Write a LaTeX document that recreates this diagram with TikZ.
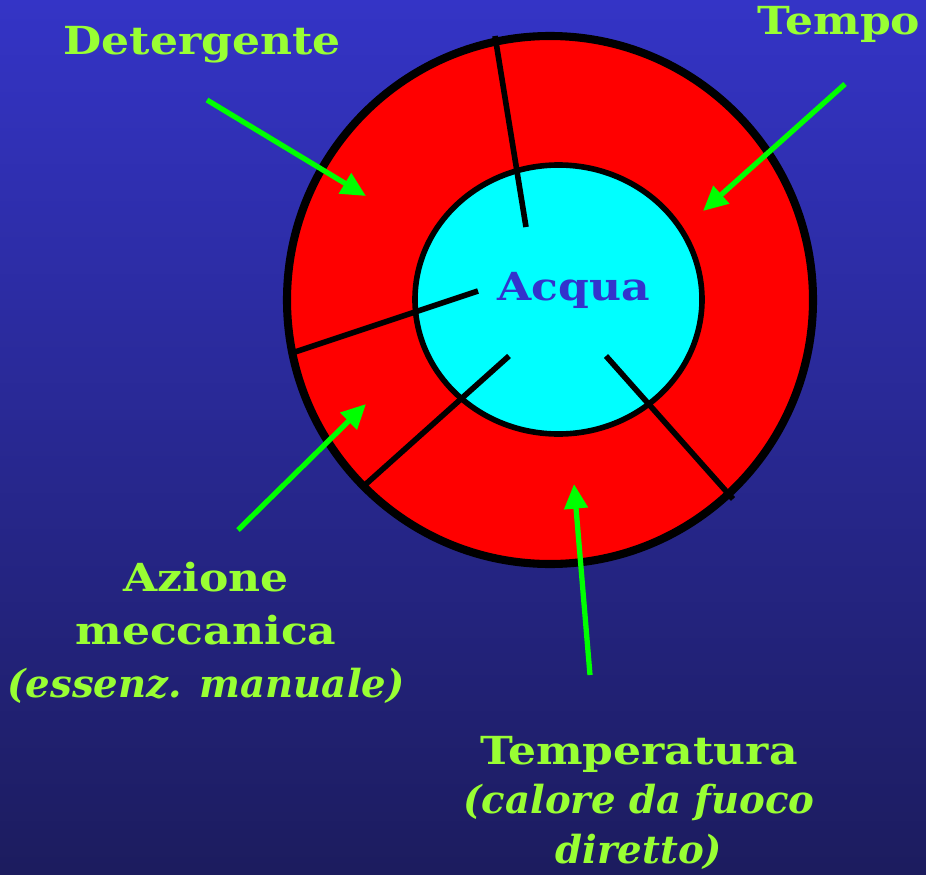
\documentclass[tikz,border=0pt]{standalone}
\usepackage{fontspec}
\setmainfont{DejaVu Serif}[BoldFeatures={FakeStretch=1.14}]
\definecolor{BGTOP}{HTML}{3434C6}
\definecolor{BGBOT}{HTML}{1C1C5E}
\definecolor{RING}{HTML}{FF0000}
\definecolor{WATER}{HTML}{00FFFF}
\definecolor{LABEL}{HTML}{99FF33}
\definecolor{GARROW}{HTML}{00FF00}
\definecolor{ACQUA}{HTML}{3333CC}
\usetikzlibrary{arrows.meta,positioning,calc}

\begin{document}
\begin{tikzpicture}
[x=0.02cm, y=-0.02cm,
lbl/.style={text=LABEL, font=\fontsize{22}{30}\selectfont\bfseries, align=center, inner sep=0pt},
garrow/.style={draw=GARROW, line width=3pt, -{Triangle[length=14pt,width=13pt]}},
spoke/.style={line width=3.2pt, black}]
\shade[top color=BGTOP, bottom color=BGBOT] (0,0) rectangle (926,875);
\useasboundingbox (0,0) rectangle (926,875);

% ring and water
\draw[line width=4.6pt, fill=RING] (550,300) ellipse [x radius=263, y radius=264];
\draw[line width=3.2pt, fill=WATER] (558.5,299.5) ellipse [x radius=143.5, y radius=134.5];
\draw[spoke] (495,36) -- (526,227);
\draw[spoke] (289,354) -- (478,291);
\draw[spoke] (366,484) -- (509,356);
\draw[spoke] (733,499) -- (606,356);
\node[lbl, text=ACQUA, anchor=base] (acqua) at (573.5,300) {Acqua};

% labels
\node[lbl, anchor=base] (det) at (202,55) {Detergente};
\node[lbl, anchor=base] (tempo) at (839,35) {Tempo};
\node[lbl, anchor=base] (azione) at (206,697)
  {Azione\\meccanica\\{\itshape (essenz. manuale)}};
\node[lbl, anchor=base] (temp) at (639,863)
  {Temperatura\\[-2pt]{\itshape (calore da fuoco}\\[-2pt]{\itshape diretto)}};

% arrows
\coordinate (detS) at (207,100);   \coordinate (detT) at (366,196);
\coordinate (tmpS) at (845,84);    \coordinate (tmpT) at (703,211);
\coordinate (azS) at (238,530);    \coordinate (azT) at (366,404);
\coordinate (teS) at (590,675);    \coordinate (teT) at (574,484);
\draw[garrow] (detS) -- (detT);
\draw[garrow] (tmpS) -- (tmpT);
\draw[garrow] (azS) -- (azT);
\draw[garrow] (teS) -- (teT);
\end{tikzpicture}
\end{document}
